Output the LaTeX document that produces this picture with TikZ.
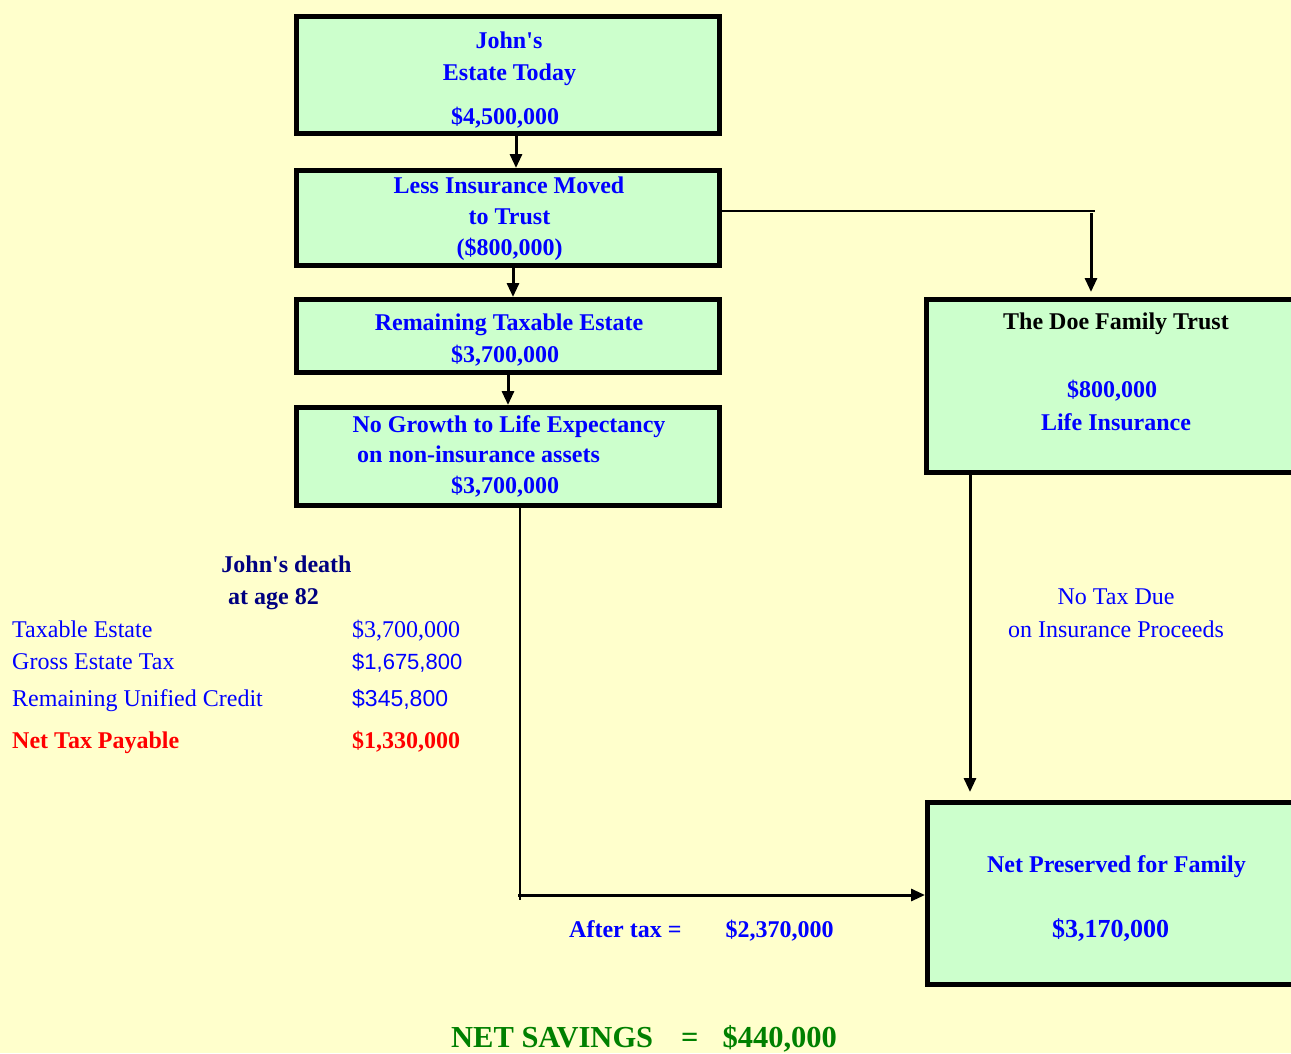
\documentclass[tikz,border=0pt]{standalone}
\usepackage{fontspec}
\setmainfont{Liberation Serif}[Ligatures=TeXOff]
\newfontfamily\sansf{Liberation Sans}[Ligatures=TeXOff]
\usetikzlibrary{arrows.meta}
\definecolor{bgc}{HTML}{FFFFCC}
\definecolor{boxc}{HTML}{CCFFCC}
\definecolor{tblue}{HTML}{0000FF}
\definecolor{tnavy}{HTML}{000080}
\definecolor{tred}{HTML}{FF0000}
\definecolor{tgreen}{HTML}{008000}
\begin{document}
\begin{tikzpicture}[x=1pt,y=-1pt,
  box/.style={draw=black, line width=5pt, fill=boxc, inner sep=0pt, outer sep=2.5pt},
  arr/.style={line width=3pt, -{Triangle[length=14pt,width=12pt]}},
  thinline/.style={line width=1.2pt},
  tx/.style={inner sep=0pt, anchor=base, text=tblue, font=\bfseries\fontsize{24}{28}\selectfont},
  txl/.style={tx, anchor=base west},
  rg/.style={inner sep=0pt, anchor=base west, text=tblue, font=\fontsize{24}{28}\selectfont},
  rgc/.style={rg, anchor=base}]
\useasboundingbox (0,0) rectangle (1291,1053);
\fill[bgc] (0,0) rectangle (1291,1053);
\begin{scope}
\clip (0,0) rectangle (1291,1053);
% boxes
\node[box, minimum width=423pt, minimum height=117pt] (b1) at (508,75) {};
\node[box, minimum width=423pt, minimum height=95pt] (b2) at (508,218) {};
\node[box, minimum width=423pt, minimum height=73pt] (b3) at (508,336) {};
\node[box, minimum width=423pt, minimum height=98pt] (b4) at (508,456.5) {};
\node[box, minimum width=393.5pt, minimum height=173pt] (trust) at (1123.25,386) {};
\node[box, minimum width=392.5pt, minimum height=182pt] (net) at (1123.75,893.5) {};
\end{scope}
% helper coordinates
\coordinate (c1) at (1095,211);
\coordinate (c2) at (1091,213);
\coordinate (k1) at (970,0);
\coordinate (k2) at (520,0);
\coordinate (k3) at (520,900);
\coordinate (k4) at (518,895);
% connectors
\draw[arr] ([xshift=8pt]b1.south) -- ([xshift=8pt]b2.north);
\draw[arr] ([xshift=5pt]b2.south) -- ([xshift=5pt]b3.north);
\draw[arr] (b3.south) -- (b4.north);
\draw[thinline] ([yshift=7pt]b2.east) -- (c1);
\draw[arr, shorten >=5pt] (c2) -- (c2 |- trust.north);
\draw[arr, shorten >=8pt] (trust.south -| k1) -- (net.north -| k1);
\draw[thinline] (b4.south -| k2) -- (k3);
\draw[arr] (k4) -- (net.west |- k4);
% box texts
\node[tx] (t1a) at (509,48) {John's};
\node[tx] (t1b) at (509.5,80) {Estate Today};
\node[tx] (t1c) at (505,124) {\$4,500,000};
\node[tx] (t2a) at (509,193) {Less Insurance Moved};
\node[tx] (t2b) at (509.5,224) {to Trust};
\node[tx] (t2c) at (509.5,255) {(\$800,000)};
\node[tx] (t3a) at (509,330) {Remaining Taxable Estate};
\node[tx] (t3b) at (505,362) {\$3,700,000};
\node[tx] (t4a) at (509,432) {No Growth to Life Expectancy};
\node[txl] (t4b) at (357,462) {on non-insurance assets};
\node[tx] (t4c) at (505,493) {\$3,700,000};
\node[tx, text=black] (tr1) at (1116,329) {The Doe Family Trust};
\node[tx] (tr2) at (1112,397) {\$800,000};
\node[tx] (tr3) at (1116,430) {Life Insurance};
% left table
\node[tx, text=tnavy] (d1) at (286.5,572) {John's death};
\node[tx, text=tnavy] (d2) at (273.5,604) {at age 82};
\node[rg] (l1) at (12,637) {Taxable Estate};
\node[rg] (l2) at (12,669) {Gross Estate Tax};
\node[rg] (l3) at (12,706) {Remaining Unified Credit};
\node[txl, text=tred] (l4) at (12,748) {Net Tax Payable};
\node[rg] (v1) at (352,637) {\$3,700,000};
\node[rg, font=\sansf\fontsize{22}{26}\selectfont] (v2) at (352,669) {\$1,675,800};
\node[rg, font=\sansf\fontsize{23}{26}\selectfont] (v3) at (352,706) {\$345,800};
\node[txl, text=tred] (v4) at (352,748) {\$1,330,000};
% right texts
\node[rgc] (n1) at (1116,604) {No Tax Due};
\node[rgc] (n2) at (1116,637) {on Insurance Proceeds};
\node[tx] (p1) at (1116.5,872) {Net Preserved for Family};
\node[tx, font=\bfseries\fontsize{26}{30}\selectfont] (p2) at (1110.5,937.5) {\$3,170,000};
\node[txl] (a1) at (569,937) {After tax =};
\node[txl] (a2) at (725.5,937) {\$2,370,000};
\node[txl, text=tgreen, font=\bfseries\fontsize{30.5}{34}\selectfont] (s1) at (451,1047) {NET SAVINGS\hspace{28pt}=\hspace{24pt}\$440,000};
\end{tikzpicture}
\end{document}
